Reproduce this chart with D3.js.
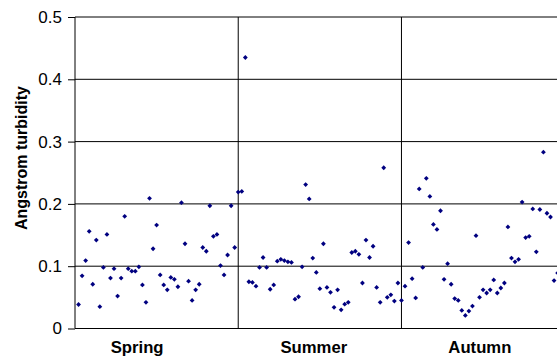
<!DOCTYPE html>
<html>
<head>
<meta charset="utf-8">
<script src="https://cdn.jsdelivr.net/npm/d3@7"></script>
<style>
html,body{margin:0;padding:0;background:#fff;}
svg{display:block;font-family:"Liberation Sans",Arial,sans-serif;}
</style>
</head>
<body>
<svg id="chart" width="557" height="360"></svg>
<script>
const seasons = ["Spring", "Summer", "Autumn"];
const seasonLabelIndex = [17.5, 67.3, 114.1];
const pointsPerSeason = 46;
const springValues = [0.0385,0.0845,0.109,0.156,0.071,0.142,0.035,0.098,0.151,0.081,0.096,0.052,0.081,0.180,0.096,0.092,0.092,0.099,0.070,0.042,0.209,0.128,0.166,0.086,0.070,0.062,0.082,0.079,0.067,0.202,0.136,0.076,0.045,0.062,0.071,0.130,0.124,0.197,0.148,0.151,0.101,0.086,0.118,0.197,0.130,0.219];
const summerValues = [0.220,0.435,0.075,0.074,0.068,0.098,0.114,0.098,0.063,0.070,0.108,0.111,0.109,0.107,0.106,0.047,0.051,0.099,0.231,0.208,0.113,0.090,0.064,0.136,0.066,0.058,0.034,0.062,0.030,0.039,0.042,0.122,0.124,0.119,0.073,0.142,0.114,0.132,0.066,0.042,0.258,0.050,0.054,0.044,0.073,0.045];
const autumnValues = [0.068,0.138,0.080,0.049,0.224,0.098,0.241,0.212,0.167,0.159,0.189,0.079,0.104,0.071,0.048,0.045,0.029,0.021,0.028,0.036,0.149,0.050,0.062,0.057,0.062,0.078,0.057,0.065,0.073,0.163,0.113,0.107,0.111,0.203,0.146,0.148,0.192,0.123,0.191,0.283,0.185,0.179,0.077,0.089];
const yTicks = [0, 0.1, 0.2, 0.3, 0.4, 0.5];
const yTickLabels = ["0", "0.1", "0.2", "0.3", "0.4", "0.5"];
const yTitle = "Angstrom turbidity";

(function () {
const allValues = springValues.concat(summerValues, autumnValues);
const points = allValues.map((v, i) => ({i: i + 1, v}));
const nTotal = pointsPerSeason * seasons.length;

const svg = d3.select("#chart");
const pLeft = 75, pRight = 564.7, pTop = 17.0, pBottom = 328.5;
const x = d3.scaleLinear().domain([0, nTotal]).range([pLeft, pRight]);
const y = d3.scaleLinear().domain([0, 0.5]).range([pBottom, pTop]);

// horizontal gridlines
svg.append("g").selectAll("line").data(yTicks.filter(d => d > 0)).join("line")
  .attr("x1", pLeft).attr("x2", pRight)
  .attr("y1", d => y(d)).attr("y2", d => y(d))
  .attr("stroke", "#000").attr("stroke-width", 1);

// season separators
svg.append("g").selectAll("line").data(d3.range(1, seasons.length)).join("line")
  .attr("x1", d => x(d * pointsPerSeason)).attr("x2", d => x(d * pointsPerSeason))
  .attr("y1", pTop).attr("y2", pBottom)
  .attr("stroke", "#000").attr("stroke-width", 1);

// y axis
const yAxis = d3.axisLeft(y).tickValues(yTicks).tickFormat((d, i) => yTickLabels[i]).tickSize(7).tickPadding(6);
const gy = svg.append("g").attr("transform", `translate(${pLeft},0)`).call(yAxis);
gy.select(".domain").attr("stroke", "#000").attr("d", `M0,${pTop}V${pBottom}`);
gy.selectAll(".tick line").attr("stroke", "#000");
gy.selectAll(".tick text").attr("font-size", 17).attr("fill", "#000")
  .attr("font-family", "Liberation Sans, Arial, sans-serif");

// x axis baseline
svg.append("line").attr("x1", pLeft).attr("x2", pRight)
  .attr("y1", y(0)).attr("y2", y(0)).attr("stroke", "#000");

// category labels
svg.append("g").selectAll("text").data(seasons).join("text")
  .attr("x", (d, i) => x(seasonLabelIndex[i]))
  .attr("y", 353)
  .attr("text-anchor", "middle")
  .attr("font-size", 16.7).attr("font-weight", "bold").attr("fill", "#000")
  .text(d => d);

// y title
svg.append("text")
  .attr("transform", "translate(27,158) rotate(-90)")
  .attr("text-anchor", "middle")
  .attr("font-size", 16).attr("font-weight", "bold").attr("fill", "#000")
  .text(yTitle);

// points
const r = 2.4;
svg.append("g").selectAll("path").data(points).join("path")
  .attr("transform", d => `translate(${x(d.i)},${y(d.v)})`)
  .attr("d", `M0,${-r}L${r},0L0,${r}L${-r},0Z`)
  .attr("fill", "#000080");
})();
</script>
</body>
</html>
